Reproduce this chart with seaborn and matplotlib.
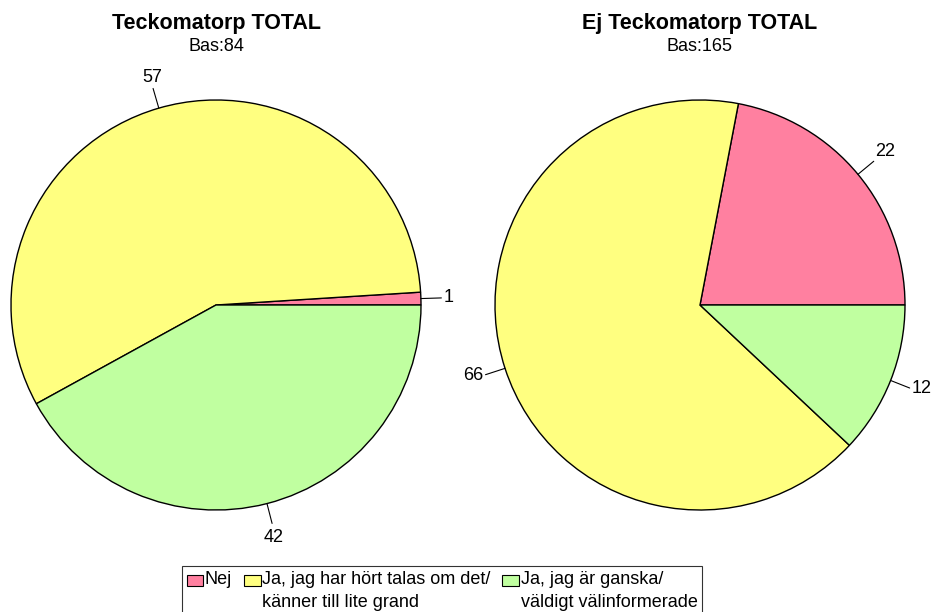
import numpy as np
import matplotlib
matplotlib.use("Agg")
import matplotlib.pyplot as plt
from matplotlib.patches import Rectangle
from matplotlib.legend_handler import HandlerBase
import seaborn as sns

# data
categories = ["Nej", "Ja, jag har hört talas om det/\nkänner till lite grand",
              "Ja, jag är ganska/\nväldigt välinformerade"]
groups = ["Teckomatorp TOTAL", "Ej Teckomatorp TOTAL"]
bases = [84, 165]
left_values = [1, 57, 42]
right_values = [22, 66, 12]
colors = ["#FF80A0", "#FFFF80", "#C0FFA0"]

sns.set_theme(style="white")
plt.rcParams["font.family"] = ["Liberation Sans", "DejaVu Sans"]
plt.rcParams["text.color"] = "black"

SWATCH_Y = 0.62  # swatch bottom above handle box, in font sizes


class TopBox(HandlerBase):
    # swatch next to the first line of a two-line label
    def create_artists(self, legend, orig_handle, xdescent, ydescent,
                       width, height, fontsize, trans):
        r = Rectangle((-xdescent, -ydescent + SWATCH_Y * fontsize),
                      width, 0.6 * fontsize,
                      facecolor=orig_handle.get_facecolor(),
                      edgecolor="black", lw=0.8, transform=trans)
        return [r]


def draw_pie(ax, values, title, base):
    wedges, _ = ax.pie(values, colors=colors, startangle=0, counterclock=True,
                       radius=1, wedgeprops=dict(edgecolor="black", linewidth=1.0))
    for w in wedges:
        w.set_clip_on(False)
    total = sum(values)
    start = 0.0
    for v in values:
        mid = np.deg2rad(start + 360.0 * v / total / 2)
        start += 360.0 * v / total
        c, s = np.cos(mid), np.sin(mid)
        ax.plot([c, 1.1 * c], [s, 1.1 * s], color="black", lw=0.8, clip_on=False)
        ha = "left" if c > 0.3 else ("right" if c < -0.3 else "center")
        va = "bottom" if s > 0.5 else ("top" if s < -0.5 else "center")
        r = 1.13 if va == "top" else 1.11
        ax.text(r * c, r * s, str(v), ha=ha, va=va, fontsize=13)
    ax.set_xlim(-1.25, 1.25)
    ax.set_ylim(-1.25, 1.25)
    ax.set_aspect("equal")
    ax.axis("off")
    ax.text(0.5, 0.5 + 1.375 / 2.5, title, transform=ax.transAxes, ha="center",
            va="center", fontsize=15.5, fontweight="bold")
    ax.text(0.5, 0.5 + 1.26 / 2.5, f"Bas:{base}", transform=ax.transAxes,
            ha="center", va="center", fontsize=13)


W, H = 932, 612
fig = plt.figure(figsize=(W / 100, H / 100), dpi=100)
R = 205
half = 1.25 * R
for cx, vals, title, base in [(216, left_values, groups[0], bases[0]),
                              (700, right_values, groups[1], bases[1])]:
    cy = 305
    ax = fig.add_axes([(cx - half) / W, 1 - (cy + half) / H, 2 * half / W, 2 * half / H])
    draw_pie(ax, vals, title, base)

handles = [Rectangle((0, 0), 1, 1, facecolor=c) for c in colors]
labels = [categories[0] + "\n "] + categories[1:]
leg = fig.legend(handles, labels, loc="upper left", ncol=3,
                 bbox_to_anchor=(182 / W, 1 - 566 / H), bbox_transform=fig.transFigure,
                 fontsize=13, frameon=True, fancybox=False, borderaxespad=0,
                 handlelength=0.94, handleheight=0.7, handletextpad=0.08,
                 columnspacing=0.65, borderpad=0.25,
                 handler_map={Rectangle: TopBox()})
leg.get_frame().set_edgecolor("black")
leg.get_frame().set_linewidth(0.8)
for t in leg.get_texts():
    t.set_linespacing(1.5)

fig.savefig("out.png", dpi=100)
